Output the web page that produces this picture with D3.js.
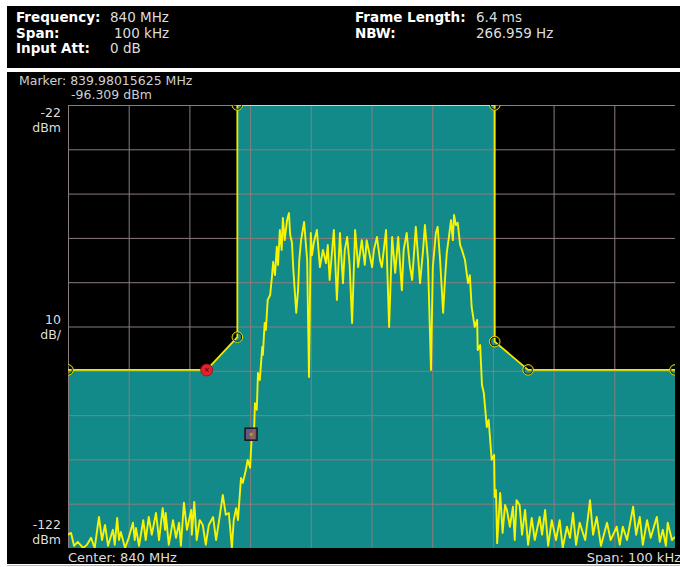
<!DOCTYPE html>
<html>
<head>
<meta charset="utf-8">
<script src="https://d3js.org/d3.v7.min.js"></script>
<style>
  body { margin: 0; background: #fff; }
  text { font-family: "DejaVu Sans", sans-serif; }
</style>
</head>
<body>
<script>
// header readouts
var headerLeft = [["Frequency:", "840 MHz"], ["Span:", "100 kHz"], ["Input Att:", "0 dB"]];
var headerRight = [["Frame Length:", "6.4 ms"], ["NBW:", "266.959 Hz"]];

// y side labels (dBm)
var yLabelValues = [-22, -72, -122];
var yLabelText = [["-22", "dBm"], ["10", "dB/"], ["-122", "dBm"]];

// limit mask (kHz offset from 840 MHz, dBm)
var maskKHz = [-50, -27.15, -22.1, -22.1, 20.3, 20.3, 25.8, 50];
var maskDbm = [-81.8, -81.8, -74.4, -22, -22, -75.4, -81.8, -81.8];
var maskFailIndex = 1;

// marker
var markerKHz = -19.84375, markerDbm = -96.309;

// spectrum trace [kHz, dBm]
var tracePoints = [
  [-50,-119],[-49.5,-118.6],[-49,-121.5],[-48.4,-120.6],[-47.5,-122],[-46.9,-121.3],[-46.2,-119.7],[-45.6,-122],
  [-44.9,-115],[-44.4,-120.2],[-43.9,-116.8],[-43.4,-121.5],[-42.6,-117.9],[-42.3,-121.3],[-41.9,-115.2],[-41.6,-120.2],
  [-41.3,-118.4],[-40.6,-122],[-40,-119.7],[-39.3,-116.3],[-39,-120.2],[-38.8,-117.5],[-38.3,-121.5],[-37.6,-115.7],
  [-37.2,-120.2],[-36.7,-115],[-36.2,-119],[-35.5,-114.1],[-35,-120.2],[-34.4,-113],[-34,-117.9],[-33.9,-114.1],
  [-33.4,-121.3],[-32.7,-115.7],[-32.2,-119.7],[-31.7,-116.3],[-31.4,-121.5],[-30.9,-111.8],[-30.4,-117.9],[-29.7,-113.4],
  [-29.6,-119],[-29.2,-111.6],[-28.8,-120.2],[-28.3,-115.7],[-27.8,-116.8],[-27.3,-121.3],[-26.8,-116.8],[-26.1,-115],
  [-25.6,-120.2],[-25.1,-115.7],[-24.5,-110],[-24,-114.5],[-23.5,-114.1],[-23,-122],[-22.7,-115.7],[-22.3,-113],
  [-22,-115.7],[-21.5,-106.2],[-21.2,-107.3],[-20.7,-104.4],[-20.4,-102.1],[-20,-103.9],[-19.7,-96],[-19.4,-97.6],
  [-19.2,-89.3],[-18.9,-90.8],[-18.7,-82.5],[-18.4,-84.1],[-18,-76.6],[-17.9,-78.4],[-17.6,-71.2],[-17.4,-72.8],
  [-17.1,-66],[-16.7,-64.9],[-16.4,-60.8],[-16.2,-57.4],[-15.9,-60.4],[-15.6,-54],[-15.4,-58.1],[-15.1,-50.2],
  [-14.8,-54.7],[-14.6,-47.5],[-14.3,-52.5],[-13.9,-47.9],[-13.6,-46.4],[-13.4,-51.3],[-13.1,-53.1],[-12.9,-58.6],
  [-12.4,-68.9],[-12.1,-63.8],[-11.9,-57],[-11.6,-52.5],[-11.1,-48.4],[-10.8,-53.6],[-10.6,-57],[-10.3,-83.4],
  [-10,-50.9],[-9.8,-55.9],[-9.5,-53.1],[-9,-50.2],[-8.5,-58.6],[-8,-54.7],[-7.5,-57.7],[-7.2,-53.6],
  [-6.9,-61.5],[-6.2,-50.2],[-5.7,-66],[-5.2,-50.9],[-4.7,-62.2],[-4.4,-54.7],[-4,-51.8],[-3.6,-58.1],
  [-3.2,-71.2],[-2.7,-50.2],[-2.2,-58.6],[-1.6,-52.5],[-1.1,-58.1],[-0.8,-52.5],[0.1,-58.6],[0.4,-54.7],
  [0.9,-51.8],[1.4,-57],[1.7,-58.6],[2.4,-50.2],[2.9,-72.1],[3.4,-51.8],[3.9,-59.9],[4.4,-51.8],
  [5,-63.8],[5.3,-54.7],[5.8,-50.9],[6.3,-58.1],[6.7,-61.5],[7.3,-49.5],[8,-62.2],[8.5,-54.7],
  [8.8,-49.1],[9.3,-57],[9.8,-81.8],[10.1,-58.6],[10.6,-50.9],[10.9,-49.5],[11.3,-57],[11.8,-68.9],
  [12.1,-61.5],[12.4,-55.4],[12.8,-51.3],[13.1,-48],[13.4,-52.5],[13.6,-46.8],[13.9,-49.1],[14.2,-48.6],
  [14.6,-53.6],[14.9,-54.7],[15.4,-57],[15.9,-62.2],[16.2,-60.4],[16.5,-67.6],[17,-72.1],[17.4,-70.5],
  [17.5,-77.3],[17.9,-76.2],[18.2,-85.2],[18.5,-87],[19,-94.7],[19.3,-93.1],[19.8,-102.1],[20.2,-101],
  [20.3,-110.5],[20.5,-108.9],[20.7,-120.9],[21.2,-109.6],[21.6,-118.6],[22,-112.3],[22.3,-113.4],[22.8,-117.2],
  [23.3,-112.7],[23.6,-120.2],[23.9,-111.2],[24.4,-112.3],[24.8,-119],[25.3,-113.4],[25.8,-121.3],[26.4,-115.2],
  [26.9,-120.2],[27.7,-115],[28.1,-119],[28.6,-113.4],[29.1,-121.5],[29.7,-115.7],[30.4,-120.2],[31,-115.7],
  [31.5,-122],[32.2,-117.2],[32.7,-119.7],[33.2,-114.1],[33.7,-121.3],[34.3,-116.3],[35.2,-120.2],[36,-111.2],
  [36.5,-119],[37.1,-115],[37.8,-121.5],[38.8,-116.3],[39.4,-120.2],[40.4,-117.2],[40.9,-121.3],[41.4,-117.2],
  [42.1,-120.2],[43.1,-112.7],[43.6,-119],[44.2,-115],[44.7,-121.3],[45.4,-115.7],[46,-119.7],[47,-115],
  [47.5,-120.6],[48,-117.9],[48.5,-121.5],[48.8,-116.3],[49.5,-120.2],[50,-119.5]
];

var W = 680, H = 567;
var pL = 68, pR = 675, pT = 105, pB = 548;

var x = d3.scaleLinear().domain([-50, 50]).range([pL, pR]);
var y = d3.scaleLinear().domain([-122, -22]).range([pB, pT]);

var svg = d3.select("body").append("svg").attr("width", W).attr("height", H);

svg.append("rect").attr("width", W).attr("height", H).attr("fill", "#fff");
// header panel
svg.append("rect").attr("x", 7).attr("y", 6).attr("width", W - 7).attr("height", 62).attr("fill", "#000");
// plot panel
svg.append("rect").attr("x", 7).attr("y", 72).attr("width", W - 7).attr("height", 492).attr("fill", "#000");
svg.append("line").attr("x1", 7).attr("x2", W).attr("y1", 565.5).attr("y2", 565.5).attr("stroke", "#bbb");

// header text
headerLeft.forEach(function(d, i) {
  svg.append("text").attr("x", 16).attr("y", 22 + i * 15.5).attr("fill", "#fff")
    .attr("font-size", 13.5).attr("font-weight", "bold").text(d[0]);
  svg.append("text").attr("x", i == 1 ? 114 : 110).attr("y", 22 + i * 15.5).attr("fill", "#ddd")
    .attr("font-size", 13.5).text(d[1]);
});
headerRight.forEach(function(d, i) {
  svg.append("text").attr("x", 355).attr("y", 22 + i * 15.5).attr("fill", "#fff")
    .attr("font-size", 13.5).attr("font-weight", "bold").text(d[0]);
  svg.append("text").attr("x", 476).attr("y", 22 + i * 15.5).attr("fill", "#ddd")
    .attr("font-size", 13.5).text(d[1]);
});

// marker readout
svg.append("text").attr("x", 19).attr("y", 85).attr("fill", "#cfcfcf").attr("font-size", 12.5)
  .text("Marker: " + (840 + markerKHz / 1000).toFixed(8) + " MHz");
svg.append("text").attr("x", 71).attr("y", 99).attr("fill", "#cfcfcf").attr("font-size", 12.5)
  .text(markerDbm.toFixed(3) + " dBm");

// y side labels
yLabelValues.forEach(function(v, i) {
  var yy = v == -22 ? 117 : (v == -122 ? 529 : 324);
  svg.append("text").attr("x", 61).attr("y", yy).attr("text-anchor", "end")
    .attr("fill", "#ddd").attr("font-size", 12.5).text(yLabelText[i][0]);
  svg.append("text").attr("x", 61).attr("y", yy + 15).attr("text-anchor", "end")
    .attr("fill", "#ddd").attr("font-size", 12.5).text(yLabelText[i][1]);
});

// bottom labels
svg.append("text").attr("x", 68).attr("y", 562).attr("fill", "#ddd").attr("font-size", 13).text("Center: 840 MHz");
svg.append("text").attr("x", 681).attr("y", 562).attr("text-anchor", "end").attr("fill", "#ddd")
  .attr("font-size", 13).text("Span: 100 kHz");

// clip
svg.append("clipPath").attr("id", "plot").append("rect")
  .attr("x", pL).attr("y", pT).attr("width", pR - pL).attr("height", pB - pT);
var g = svg.append("g").attr("clip-path", "url(#plot)");

var mask = maskKHz.map(function(k, i) { return [k, maskDbm[i]]; });

// mask area (pass region)
g.append("path").datum(mask)
  .attr("d", d3.area().x(function(d) { return x(d[0]); }).y0(pB).y1(function(d) { return y(d[1]); }))
  .attr("fill", "#138a8a");

// grid
var gx = g.append("g").attr("transform", "translate(0," + pB + ")")
  .call(d3.axisBottom(x).tickValues(d3.range(-50, 51, 10)).tickSize(-(pB - pT)).tickFormat(""));
var gy = g.append("g").attr("transform", "translate(" + pL + ",0)")
  .call(d3.axisLeft(y).tickValues(d3.range(-122, -21, 10)).tickSize(-(pR - pL)).tickFormat(""));
[gx, gy].forEach(function(a) {
  a.select(".domain").remove();
  a.selectAll("line").attr("stroke", "#8a7c7c").attr("stroke-width", 1);
});

// trace
g.append("path").datum(tracePoints)
  .attr("d", d3.line().x(function(d) { return x(d[0]); }).y(function(d) { return y(Math.max(d[1], -122)); }))
  .attr("fill", "none").attr("stroke", "#f8f400").attr("stroke-width", 1.9).attr("stroke-linejoin", "round");

// mask line
g.append("path").datum(mask)
  .attr("d", d3.line().x(function(d) { return x(d[0]); }).y(function(d) { return y(d[1]); }))
  .attr("fill", "none").attr("stroke", "#f2ea00").attr("stroke-width", 1.8);

// mask points
mask.forEach(function(d, i) {
  if (i == maskFailIndex) {
    g.append("circle").attr("cx", x(d[0])).attr("cy", y(d[1])).attr("r", 6)
      .attr("fill", "#e8202c").attr("stroke", "#8a1010").attr("stroke-width", 0.8);
    g.append("text").attr("x", x(d[0])).attr("y", y(d[1]) + 2.5).attr("text-anchor", "middle")
      .attr("font-size", 7).attr("fill", "#300").text("×");
  } else {
    g.append("circle").attr("cx", x(d[0])).attr("cy", y(d[1])).attr("r", 4.5)
      .attr("fill", "none").attr("stroke", "#222").attr("stroke-width", 1.5);
    g.append("circle").attr("cx", x(d[0])).attr("cy", y(d[1])).attr("r", 5.3)
      .attr("fill", "none").attr("stroke", "#e8dc00").attr("stroke-width", 1);
  }
});

// marker box
g.append("rect").attr("x", x(markerKHz) - 6).attr("y", y(markerDbm) - 6).attr("width", 12).attr("height", 12)
  .attr("fill", "#7a4c74").attr("fill-opacity", 0.85).attr("stroke", "#161620").attr("stroke-width", 1.5);
g.append("circle").attr("cx", x(markerKHz)).attr("cy", y(markerDbm)).attr("r", 1.5).attr("fill", "#c0a000");
</script>
</body>
</html>
